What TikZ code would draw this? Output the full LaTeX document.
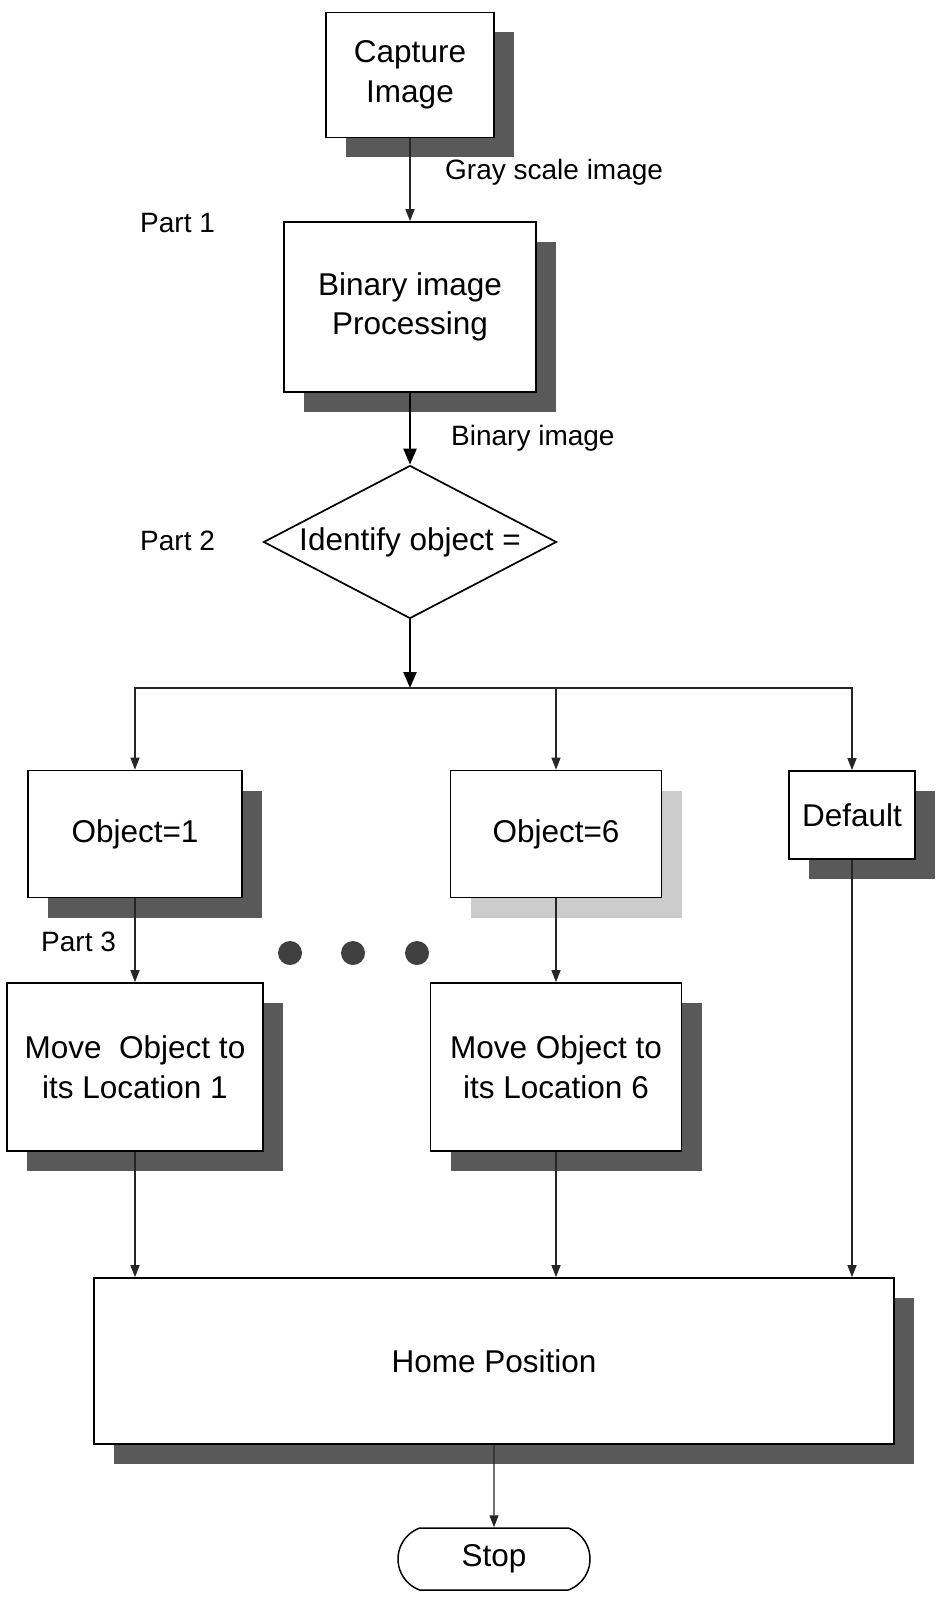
\documentclass[tikz,border=0pt]{standalone}
\usepackage{fontspec}
\setmainfont{Liberation Sans}
\usepackage{tikz}
\usetikzlibrary{arrows.meta,shapes,shadows,positioning,calc}

\tikzset{
    boxbase/.style={draw, line width=1.7pt, fill=white, inner sep=0pt, align=center,
        font=\fontsize{31.5}{39.5}\selectfont},
    procbox/.style={boxbase, drop shadow={shadow xshift=20pt, shadow yshift=-20pt, fill=black!65, opacity=1}},
    palebox/.style={boxbase, drop shadow={shadow xshift=20pt, shadow yshift=-20pt, fill=black!20, opacity=1}},
    thinarrow/.style={draw=black!85, line width=1.3pt, -{Triangle[length=12pt,width=9pt]}},
    thickarrow/.style={draw=black, line width=2.4pt, -{Triangle[length=16pt,width=13pt]}},
    lbl/.style={font=\fontsize{28}{34}\selectfont, anchor=west, inner sep=0pt}
}

\begin{document}
\begin{tikzpicture}[x=1pt, y=-1pt]
    \useasboundingbox (0,0) rectangle (937,1597);

    % Part 1
    \node[procbox, minimum width=168pt, minimum height=125pt] (cap) at (410,75) {Capture\\Image};
    \node[procbox, minimum width=252pt, minimum height=170pt] (bin) at (410,307) {Binary image\\Processing};
    \node[lbl] (graylbl) at (445,172) {Gray scale image};
    \node[lbl] (binlbl) at (451,438) {Binary image};
    \node[lbl] (part1) at (140,223) {Part 1};

    % Part 2
    \node[draw, diamond, aspect=1.9, line width=1.7pt, inner sep=0pt, minimum width=293pt, minimum height=153pt,
        font=\fontsize{31.5}{39.5}\selectfont] (ident) at (410,542) {Identify object =};
    \node[lbl] (part2) at (140,541) {Part 2};
    \coordinate (split) at (410,688);

    \node[procbox, minimum width=214pt, minimum height=127pt] (obj1) at (135,834) {Object=1};
    \node[palebox, minimum width=211pt, minimum height=127pt] (obj6) at (556,834) {Object=6};
    \node[procbox, minimum width=126pt, minimum height=88pt] (dflt) at (852,815) {Default};

    % Part 3
    \node[lbl] (part3) at (41,942) {Part 3};
    \foreach \x in {290,353,417}
        \fill[black!75] (\x,953) circle (12pt);
    \node[procbox, minimum width=256pt, minimum height=168pt] (move1) at (135,1067) {Move~~Object to\\its Location 1};
    \node[procbox, minimum width=251pt, minimum height=168pt] (move6) at (556,1067) {Move Object to\\its Location 6};
    \node[procbox, minimum width=800pt, minimum height=166pt] (home) at (494,1361) {Home Position};
    \node[draw, rounded rectangle, rounded rectangle arc length=140, line width=1.5pt, inner sep=0pt,
        minimum width=192pt, minimum height=62pt, font=\fontsize{31.5}{39.5}\selectfont] (stop) at (494,1559) {Stop};

    % connectors
    \draw[thinarrow] (cap) -- (bin);
    \draw[thickarrow] (bin) -- (ident);
    \draw[thickarrow] (ident) -- (split);
    \draw[thinarrow] (split) -| (obj1);
    \draw[thinarrow] (split) -| (obj6);
    \draw[thinarrow] (split) -| (dflt);
    \draw[thinarrow] (obj1) -- (move1);
    \draw[thinarrow] (obj6) -- (move6);
    \draw[thinarrow] (move1) -- (move1 |- home.north);
    \draw[thinarrow] (move6) -- (move6 |- home.north);
    \draw[thinarrow] (dflt) -- (dflt |- home.north);
    \draw[thinarrow] (home) -- (stop);
\end{tikzpicture}
\end{document}
